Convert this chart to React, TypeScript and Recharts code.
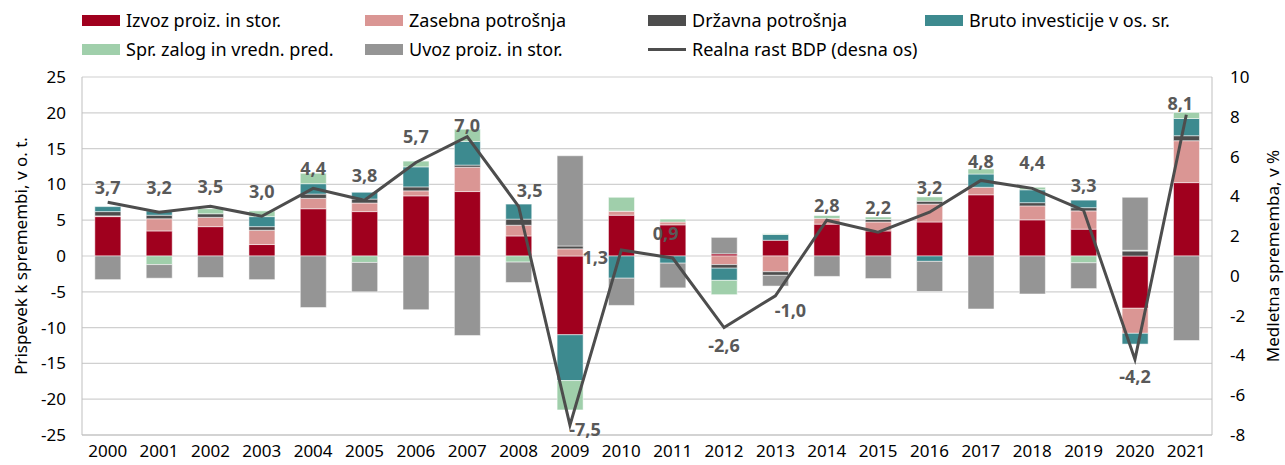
import React from 'react'
import { Bar, CartesianGrid, ComposedChart, LabelList, Line, XAxis, YAxis } from 'recharts'

const LETA = ['2000', '2001', '2002', '2003', '2004', '2005', '2006', '2007', '2008', '2009', '2010',
  '2011', '2012', '2013', '2014', '2015', '2016', '2017', '2018', '2019', '2020', '2021']

// prispevki k rasti, v o. t.
const IZVOZ = [5.5, 3.5, 4.1, 1.6, 6.6, 6.2, 8.4, 9.0, 2.8, -11.0, 5.7, 4.35, 0.3, 2.2, 4.45, 3.5, 4.75, 8.55, 5.05, 3.75, -7.3, 10.25]
const ZASEBNA = [0.1, 1.7, 1.3, 2.0, 1.45, 1.2, 0.7, 3.4, 1.5, 1.0, 0.55, 0.4, -1.2, -2.2, 0.8, 1.25, 2.5, 1.05, 1.95, 2.55, -3.5, 5.85]
const DRZAVNA = [0.6, 0.5, 0.5, 0.5, 0.6, 0.55, 0.55, 0.3, 0.85, 0.4, 0, 0, -0.5, -0.5, 0, 0.35, 0.4, 0, 0.45, 0.45, 0.7, 0.7]
const INVESTICIJE = [0.7, 0.6, 0, 1.4, 1.45, 0.95, 2.8, 3.3, 2.1, -6.4, -3.1, -1.0, -1.7, 0.8, 0, 0, -0.75, 1.85, 1.8, 1.05, -1.5, 2.4]
const ZALOGE = [0, -1.2, 0.7, 0.8, 1.45, -0.9, 0.8, 1.7, -0.85, -4.1, 1.95, 0.4, -2.0, 0.1, 0.4, 0.35, 0.6, 0.7, 0.35, -0.95, 0.1, 0.85]
const UVOZ = [-3.3, -1.9, -3.0, -3.3, -7.2, -4.1, -7.5, -11.1, -2.85, 12.6, -3.8, -3.45, 2.3, -1.5, -2.85, -3.15, -4.2, -7.4, -5.3, -3.6, 7.4, -11.8]
// realna rast BDP, v %
const BDP = [3.7, 3.2, 3.5, 3.0, 4.4, 3.8, 5.7, 7.0, 3.5, -7.5, 1.3, 0.9, -2.6, -1.0, 2.8, 2.2, 3.2, 4.8, 4.4, 3.3, -4.2, 8.1]

const LEVI_TICKS = [-25, -20, -15, -10, -5, 0, 5, 10, 15, 20, 25]
const DESNI_TICKS = [-8, -6, -4, -2, 0, 2, 4, 6, 8, 10]

// zamik oznak BDP glede na točko [dx, dy]
const ZAMIKI: [number, number][] = [
  [0, -15], [0, -25], [0, -20], [0, -25], [0, -20], [0, -25], [0, -27], [0, -12], [11, -16], [15, 4], [-26, 7],
  [-7, -25], [0, 17], [15, 14], [0, -15], [0, -25], [0, -25], [0, -19], [0, -26], [0, -25], [0, 17], [-6, -12],
]

const data = LETA.map((leto, i) => ({
  leto,
  izvoz: IZVOZ[i],
  zasebna: ZASEBNA[i],
  drzavna: DRZAVNA[i],
  investicije: INVESTICIJE[i],
  zaloge: ZALOGE[i],
  uvoz: UVOZ[i],
  bdp: BDP[i],
}))

const FONT = '"Noto Sans", "Open Sans", sans-serif'
const C = {
  izvoz: '#a0001e',
  zasebna: '#da9694',
  drzavna: '#4d4d4d',
  investicije: '#3d8a8f',
  zaloge: '#a0cfab',
  uvoz: '#959595',
  linija: '#4d4d4d',
}

const LEGENDA: { label: string; color: string; x: number; y: number; line?: boolean }[] = [
  { label: 'Izvoz proiz. in stor.', color: C.izvoz, x: 82, y: 20 },
  { label: 'Zasebna potrošnja', color: C.zasebna, x: 365, y: 20 },
  { label: 'Državna potrošnja', color: C.drzavna, x: 648, y: 20 },
  { label: 'Bruto investicije v os. sr.', color: C.investicije, x: 925, y: 20 },
  { label: 'Spr. zalog in vredn. pred.', color: C.zaloge, x: 82, y: 49 },
  { label: 'Uvoz proiz. in stor.', color: C.uvoz, x: 365, y: 49 },
  { label: 'Realna rast BDP (desna os)', color: C.linija, x: 648, y: 49, line: true },
]

function OznakaBdp(props: any) {
  const { x, y, value, index } = props
  const [dx, dy] = ZAMIKI[index] ?? [0, -20]
  return (
    <text x={x + dx} y={y + dy} textAnchor="middle" dominantBaseline="central"
      style={{ fontFamily: FONT, fontSize: 18, fontWeight: 700, fill: '#595959' }}>
      {Number(value).toFixed(1).replace('.', ',')}
    </text>
  )
}

export default function App() {
  const tick = { fontFamily: FONT, fontSize: 17, fill: '#000' }
  return (
    <div style={{ position: 'absolute', left: 0, top: 0, width: 1285, height: 465, background: '#fff', fontFamily: FONT }}>
      {LEGENDA.map((l) => (
        <div key={l.label} style={{ position: 'absolute', left: l.x, top: l.y - 12, height: 24, display: 'flex', alignItems: 'center', whiteSpace: 'nowrap' }}>
          <span style={{ width: 38, height: l.line ? 3 : 11, background: l.color, display: 'inline-block', marginRight: 6 }} />
          <span style={{ fontSize: 18, color: '#000' }}>{l.label}</span>
        </div>
      ))}

      <div style={{ position: 'absolute', left: 20, top: 256, transform: 'translate(-50%, -50%) rotate(-90deg)', whiteSpace: 'nowrap', fontSize: 17 }}>
        Prispevek k spremembi, v o. t.
      </div>
      <div style={{ position: 'absolute', left: 1272, top: 256, transform: 'translate(-50%, -50%) rotate(-90deg)', whiteSpace: 'nowrap', fontSize: 17 }}>
        Medletna sprememba, v %
      </div>

      <ComposedChart width={1285} height={465} data={data} stackOffset="sign" barCategoryGap="25%"
        margin={{ top: 77, right: 0, bottom: 0, left: 0 }} style={{ position: 'absolute', left: 0, top: 0 }}>
        <CartesianGrid yAxisId="l" vertical={false} stroke="#d0d0d0" strokeWidth={1.2} />
        <XAxis dataKey="leto" tickLine={false} axisLine={{ stroke: '#bfbfbf' }} tick={tick} height={30} tickMargin={4} interval={0} />
        <YAxis yAxisId="l" domain={[-25, 25]} ticks={LEVI_TICKS} width={82} tickLine={false}
          axisLine={{ stroke: '#bfbfbf' }} tick={tick} tickMargin={10} />
        <YAxis yAxisId="r" orientation="right" domain={[-8, 10]} ticks={DESNI_TICKS} width={73} tickLine={false}
          axisLine={{ stroke: '#bfbfbf' }} tick={{ ...tick, textAnchor: 'start' }} tickMargin={12} />
        <Bar yAxisId="l" dataKey="izvoz" stackId="a" fill={C.izvoz} stroke="#fff" strokeWidth={0.5} isAnimationActive={false} />
        <Bar yAxisId="l" dataKey="zasebna" stackId="a" fill={C.zasebna} stroke="#fff" strokeWidth={0.5} isAnimationActive={false} />
        <Bar yAxisId="l" dataKey="drzavna" stackId="a" fill={C.drzavna} stroke="#fff" strokeWidth={0.5} isAnimationActive={false} />
        <Bar yAxisId="l" dataKey="investicije" stackId="a" fill={C.investicije} stroke="#fff" strokeWidth={0.5} isAnimationActive={false} />
        <Bar yAxisId="l" dataKey="zaloge" stackId="a" fill={C.zaloge} stroke="#fff" strokeWidth={0.5} isAnimationActive={false} />
        <Bar yAxisId="l" dataKey="uvoz" stackId="a" fill={C.uvoz} stroke="#fff" strokeWidth={0.5} isAnimationActive={false} />
        <Line yAxisId="r" dataKey="bdp" type="linear" stroke={C.linija} strokeWidth={3} dot={false} isAnimationActive={false}>
          <LabelList dataKey="bdp" content={OznakaBdp} />
        </Line>
      </ComposedChart>
    </div>
  )
}
